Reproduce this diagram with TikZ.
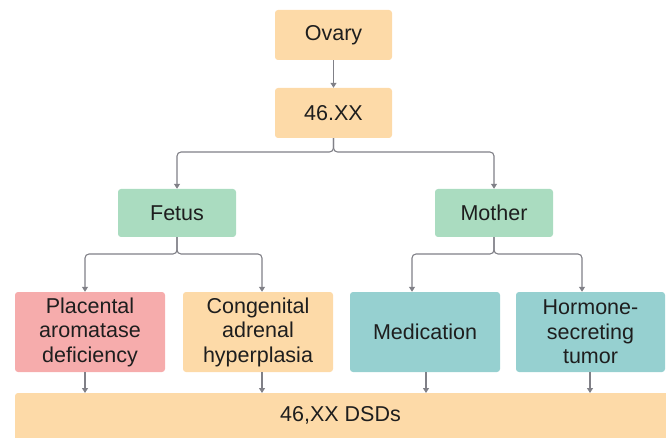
\documentclass[tikz,border=0pt]{standalone}
\usepackage{fontspec}
\setmainfont{Liberation Sans}
\usetikzlibrary{arrows.meta,calc}
\definecolor{peach}{RGB}{253,218,168}
\definecolor{mint}{RGB}{170,220,192}
\definecolor{teal2}{RGB}{150,208,208}
\definecolor{pink2}{RGB}{246,172,172}
\definecolor{linegray}{RGB}{128,128,135}
\definecolor{txt}{RGB}{30,30,30}
\begin{document}
\begin{tikzpicture}[x=1pt,y=-1pt,
  box/.style={rectangle,rounded corners=3pt,inner sep=0pt,align=center,text=txt,
    font=\fontsize{21.5}{24.5}\selectfont},
  conn/.style={draw=linegray,line width=1.1pt,rounded corners=4pt,
    -{Triangle[width=6pt,length=5pt]}}]
\useasboundingbox (0,0) rectangle (666,438);
\node[box,fill=peach,minimum width=117pt,minimum height=50pt] (ovary) at (333.5,35) {Ovary};
\node[box,fill=peach,minimum width=117pt,minimum height=50pt] (xx) at (333.5,113) {46.XX};
\node[box,fill=mint,minimum width=118pt,minimum height=48pt] (fetus) at (177,213) {Fetus};
\node[box,fill=mint,minimum width=118pt,minimum height=48pt] (mother) at (494,213) {Mother};
\node[box,fill=pink2,minimum width=150pt,minimum height=80pt] (plac) at (90,332) {Placental\\aromatase\\deficiency};
\node[box,fill=peach,minimum width=150pt,minimum height=80pt] (cah) at (258,332) {Congenital\\adrenal\\hyperplasia};
\node[box,fill=teal2,minimum width=150pt,minimum height=80pt] (med) at (425,332) {Medication};
\node[box,fill=teal2,minimum width=149pt,minimum height=80pt] (tum) at (590.5,332) {Hormone-\\secreting\\tumor};
\fill[peach,rounded corners=3pt] (15,393) rectangle (680,450);
\node[box] (dsd) at (340.5,415) {46,XX DSDs};
\coordinate (bartop) at (15,393);
\coordinate (xj) at (333.5,152);
\coordinate (fj) at (177,254);
\coordinate (mj) at (494,254);
% connectors
\draw[conn] (ovary.south) -- (xx.north);
\draw[conn] (xx.south) -- (xj) -| (fetus.north);
\draw[conn] (xx.south) -- (xj) -| (mother.north);
\draw[conn] (fetus.south) -- (fj) -| ([xshift=-5pt]plac.north);
\draw[conn] (fetus.south) -- (fj) -| ([xshift=4pt]cah.north);
\draw[conn] (mother.south) -- (mj) -| ([xshift=-13pt]med.north);
\draw[conn] (mother.south) -- (mj) -| ([xshift=-8.5pt]tum.north);
\draw[conn] ([xshift=-5pt]plac.south) -- ([xshift=-5pt]plac.south |- bartop);
\draw[conn] ([xshift=4pt]cah.south) -- ([xshift=4pt]cah.south |- bartop);
\draw[conn] ([xshift=1pt]med.south) -- ([xshift=1pt]med.south |- bartop);
\draw[conn] ([xshift=-0.5pt]tum.south) -- ([xshift=-0.5pt]tum.south |- bartop);
\end{tikzpicture}
\end{document}
